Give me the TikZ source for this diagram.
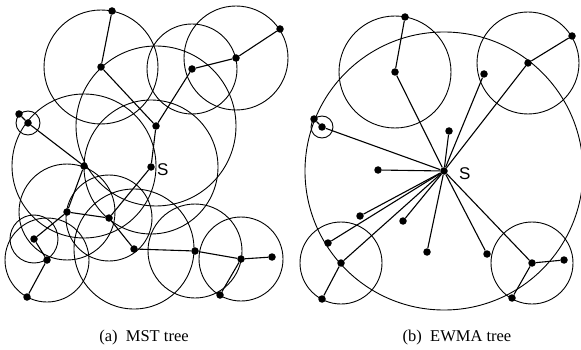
\documentclass[tikz,border=0pt]{standalone}
\usepackage{fontspec}
\setmainfont{Liberation Serif}
\newfontfamily\labelsans{Liberation Sans}
\begin{document}
\begin{tikzpicture}[x=1pt,y=-1pt,
  dot/.style={circle,fill=black,inner sep=0pt,minimum size=7.5pt},
  edge/.style={line width=1.1pt},
  ring/.style={line width=0.9pt},
  slabel/.style={font=\labelsans\fontsize{17}{17}\selectfont,inner sep=0pt},
  caption/.style={font=\fontsize{16.5}{16.5}\selectfont,inner sep=0pt}]
\useasboundingbox (0,0) rectangle (581,350);
% ---------- MST tree ----------
\foreach \n/\x/\y in {m1/112/11,m2/101/67,m3/19/114,m4/28/123,m5/280/29,m6/236/58,m7/192/69,m8/156/126,mS/151/167,m9/84/166,m10/67/212,m11/109/218,m12/34/239,m13/47/260,m14/27/297,m15/134/249,m16/195/251,m17/241/259,m18/272/257,m19/220/295}
  \node[dot] (\n) at (\x,\y) {};
\foreach \n/\r in {m2/57,m4/12,m6/52,m7/45,m8/80,mS/67,m9/72,m10/48,m11/43,m12/24,m13/42,m15/60,m16/47,m17/42}
  \draw[ring] (\n.center) circle[radius=\r pt];
\foreach \a/\b in {m1/m2,m2/m8,m8/m7,m7/m6,m6/m5,m8/mS,mS/m11,m11/m10,m11/m15,m10/m9,m10/m12,m9/m4,m4/m3,m12/m13,m13/m14,m15/m16,m16/m17,m17/m18,m17/m19}
  \draw[edge] (\a) -- (\b);
\node[slabel,anchor=west] (lS1) at (157,170) {S};
% ---------- EWMA tree ----------
\foreach \n/\x/\y in {e1/405/17,e2/395/72,e3/314/119,e4/322/127,e5/572/36,e6/528/63,e7/484/74,e8/449/131,eS/444/171,e9/378/170,e10/360/216,e11/403/221,e12/328/243,e13/341/263,e14/322/299,e15/427/252,e16/487/254,e17/532/263,e18/564/260,e19/512/298}
  \node[dot] (\n) at (\x,\y) {};
\foreach \n/\r in {e2/56,e4/11,e6/51,eS/139,e13/41,e17/41}
  \draw[ring] (\n.center) circle[radius=\r pt];
\foreach \a/\b in {e1/e2,e2/eS,e3/e4,e4/eS,e5/e6,e6/eS,e7/eS,e8/eS,e9/eS,e10/eS,e12/eS,e13/eS,e11/eS,e15/eS,e16/eS,e17/eS,e13/e14,e17/e18,e17/e19}
  \draw[edge] (\a) -- (\b);
\node[slabel,anchor=west] (lS2) at (459,174) {S};
% ---------- captions ----------
\node[caption] (capa) at (144,338) {(a)\ \ MST tree};
\node[caption] (capb) at (457,338) {(b)\ \ EWMA tree};
\end{tikzpicture}
\end{document}
